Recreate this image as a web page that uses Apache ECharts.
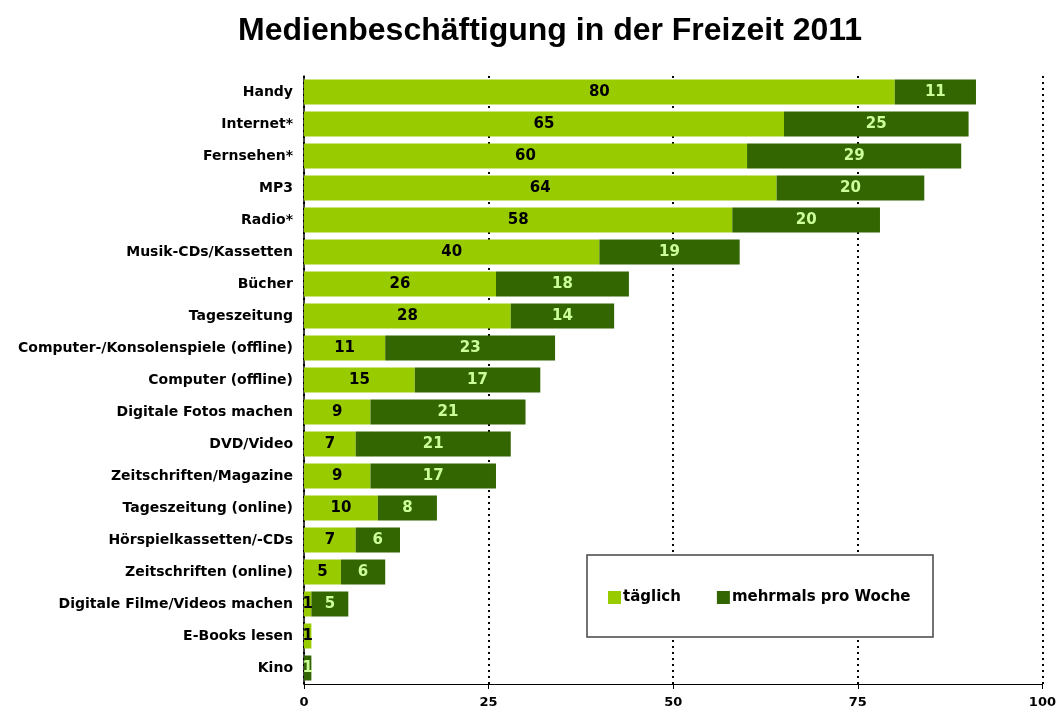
<!DOCTYPE html>
<html>
<head>
<meta charset="utf-8">
<script src="https://cdn.jsdelivr.net/npm/echarts@6/dist/echarts.min.js"></script>
<style>
  html, body { margin: 0; padding: 0; background: #fff; }
  #chart { width: 1059px; height: 717px; }
</style>
</head>
<body>
<div id="chart"></div>
<script>
  const categories = [
    'Handy', 'Internet*', 'Fernsehen*', 'MP3', 'Radio*', 'Musik-CDs/Kassetten',
    'Bücher', 'Tageszeitung', 'Computer-/Konsolenspiele (offline)', 'Computer (offline)',
    'Digitale Fotos machen', 'DVD/Video', 'Zeitschriften/Magazine', 'Tageszeitung (online)',
    'Hörspielkassetten/-CDs', 'Zeitschriften (online)', 'Digitale Filme/Videos machen',
    'E-Books lesen', 'Kino'
  ]
  const taeglich = [80, 65, 60, 64, 58, 40, 26, 28, 11, 15, 9, 7, 9, 10, 7, 5, 1, 1, null]
  const mehrmals = [11, 25, 29, 20, 20, 19, 18, 14, 23, 17, 21, 21, 17, 8, 6, 6, 5, null, 1]
  const xTicks = [0, 25, 50, 75, 100]

  const font = 'Liberation Sans, Arial, sans-serif'
  const wide = 'DejaVu Sans, sans-serif'
  const chart = echarts.init(document.getElementById('chart'))
  chart.setOption({
    animation: false,
    title: {
      text: 'Medienbeschäftigung in der Freizeit 2011',
      left: 233,
      top: 10,
      textStyle: { fontFamily: font, fontSize: 32, fontWeight: 'bold', color: '#000' }
    },
    grid: { left: 304, right: 16, top: 76, bottom: 33 },
    xAxis: {
      type: 'value',
      min: xTicks[0],
      max: xTicks[xTicks.length - 1],
      interval: 25,
      axisLine: { show: true, lineStyle: { color: '#000', width: 1 } },
      axisTick: { show: true, length: 5, lineStyle: { color: '#000' } },
      splitLine: { lineStyle: { color: '#000', type: [2, 4], width: 2 } },
      axisLabel: { fontFamily: wide, fontSize: 13, fontWeight: 'bold', color: '#000', margin: 12 }
    },
    yAxis: {
      type: 'category',
      data: categories,
      inverse: true,
      axisLine: { lineStyle: { color: '#000', width: 1.5 } },
      axisTick: { length: 5, lineStyle: { color: '#000' } },
      axisLabel: { fontFamily: wide, fontSize: 14, fontWeight: 'bold', color: '#000', margin: 11 }
    },
    graphic: [{
      type: 'rect',
      shape: { x: 587, y: 555, width: 346, height: 82 },
      style: { fill: '#fff', stroke: '#444', lineWidth: 1.5 },
      z: 10
    }],
    legend: {
      left: 603,
      top: 585,
      z: 20,
      itemWidth: 13,
      itemHeight: 13,
      itemGap: 36,
      icon: 'rect',
      textStyle: { fontFamily: wide, fontSize: 15, fontWeight: 'bold', color: '#000', padding: [0, 0, 0, -3] }
    },
    series: [
      {
        name: 'täglich',
        type: 'bar',
        stack: 'a',
        data: taeglich,
        barWidth: 25,
        itemStyle: { color: '#99cc00' },
        label: {
          show: true, position: 'inside',
          fontFamily: wide, fontSize: 15, fontWeight: 'bold', color: '#000'
        }
      },
      {
        name: 'mehrmals pro Woche',
        type: 'bar',
        stack: 'a',
        data: mehrmals,
        barWidth: 25,
        itemStyle: { color: '#336600' },
        label: {
          show: true, position: 'inside',
          fontFamily: wide, fontSize: 15, fontWeight: 'bold', color: '#ccff99'
        }
      }
    ]
  })
</script>
</body>
</html>
